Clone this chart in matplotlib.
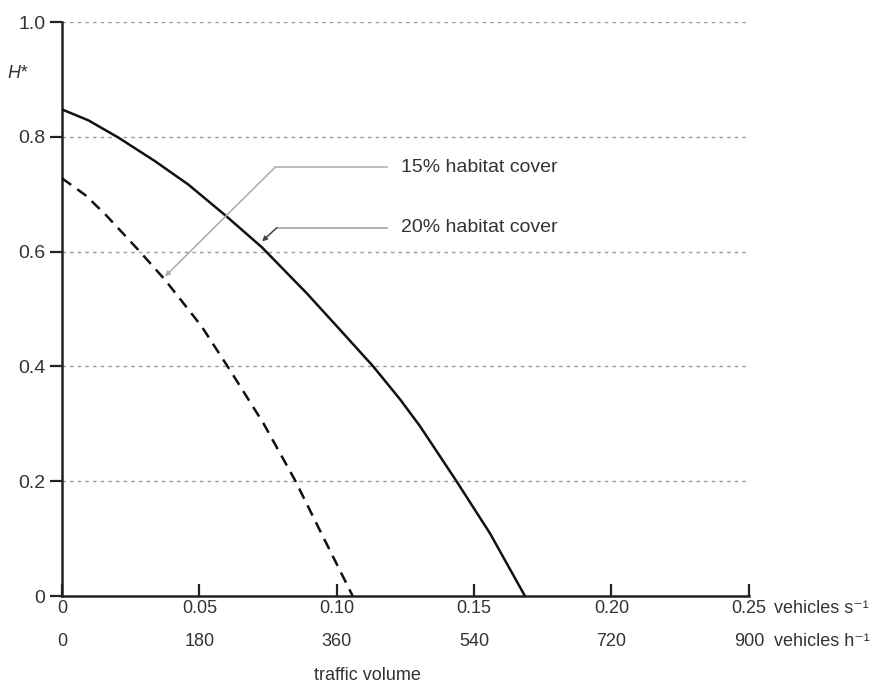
import matplotlib
matplotlib.use('Agg')
import matplotlib.pyplot as plt

plt.rcParams['font.family'] = ['Liberation Sans', 'DejaVu Sans']

# traffic volume (vehicles per second) and equilibrium H*
x_20 = [0, 0.0096, 0.0205, 0.0338, 0.046, 0.0593, 0.0727, 0.089, 0.1012,
        0.1133, 0.123, 0.1303, 0.1436, 0.1558, 0.1685]
h_20 = [0.848, 0.829, 0.799, 0.758, 0.717, 0.664, 0.608, 0.528, 0.464,
        0.400, 0.343, 0.296, 0.200, 0.109, 0.0]
x_15 = [0, 0.0084, 0.0156, 0.0278, 0.0375, 0.0508, 0.0611, 0.0733, 0.0848, 0.0939, 0.1058]
h_15 = [0.728, 0.699, 0.666, 0.603, 0.551, 0.470, 0.394, 0.301, 0.202, 0.114, 0.0]

xticks_s = [0, 0.05, 0.10, 0.15, 0.20, 0.25]
xlabels_s = ['0', '0.05', '0.10', '0.15', '0.20', '0.25']
xlabels_h = ['0', '180', '360', '540', '720', '900']
yticks = [0, 0.2, 0.4, 0.6, 0.8, 1.0]
ylabels = ['0', '0.2', '0.4', '0.6', '0.8', '1.0']

txt = '#333333'
fig = plt.figure(figsize=(8.81, 6.88), dpi=100)
ax = fig.add_axes([0.0704, 0.1337, 0.7796, 0.834])
ax.set_xlim(0, 0.25)
ax.set_ylim(0, 1.0)

for y in yticks[1:]:
    ax.axhline(y, color='#999999', lw=1.0, ls=(0, (2.5, 3)), zorder=1)

ax.plot(x_20, h_20, color='#111111', lw=1.8, zorder=3)
ax.plot(x_15, h_15, color='#111111', lw=1.8, ls=(0, (4.5, 3)), zorder=3)

# leader lines
ax.plot([0.1183, 0.0775], [0.747, 0.747], color='#aaaaaa', lw=1.1)
ax.annotate('', xy=(0.0375, 0.557), xytext=(0.0775, 0.747),
            arrowprops=dict(arrowstyle='-|>', color='#aaaaaa', lw=1.1,
                            mutation_scale=7, shrinkA=0, shrinkB=0))
ax.plot([0.1183, 0.0782], [0.642, 0.642], color='#999999', lw=1.1)
ax.annotate('', xy=(0.0728, 0.618), xytext=(0.0782, 0.642),
            arrowprops=dict(arrowstyle='-|>', color='#444444', lw=1.1,
                            mutation_scale=7, shrinkA=0, shrinkB=0))
ax.text(0.1235, 0.747, '15% habitat cover', fontsize=14, color=txt, va='center')
ax.text(0.1235, 0.642, '20% habitat cover', fontsize=14, color=txt, va='center')

for s in ['top', 'right']:
    ax.spines[s].set_visible(False)
for s in ['left', 'bottom']:
    ax.spines[s].set_linewidth(1.8)
    ax.spines[s].set_color('#222222')

ax.set_yticks(yticks)
ax.set_yticklabels(ylabels, fontsize=14, color=txt)
ax.tick_params(axis='y', direction='out', length=9, width=1.6, color='#222222', pad=3)
ax.set_xticks(xticks_s)
ax.set_xticklabels([])
ax.tick_params(axis='x', direction='in', length=9, width=1.6, color='#222222')

tr = ax.get_xaxis_transform()
for xv, ls, lh in zip(xticks_s, xlabels_s, xlabels_h):
    ax.text(xv, -0.021, ls, transform=tr, ha='center', va='center', fontsize=13, color=txt)
    ax.text(xv, -0.079, lh, transform=tr, ha='center', va='center', fontsize=13, color=txt)
ax.text(0.2592, -0.021, 'vehicles s\u207b\u00b9', transform=tr, ha='left', va='center', fontsize=13, color=txt)
ax.text(0.2592, -0.079, 'vehicles h\u207b\u00b9', transform=tr, ha='left', va='center', fontsize=13, color=txt)
ax.text(0.111, -0.124, 'traffic volume', transform=tr, ha='center', va='top', fontsize=13, color=txt)

ax.text(-0.0125, 0.91, 'H*', fontsize=13, color=txt, style='italic', ha='right', va='center')

fig.savefig('out.png', dpi=100)
